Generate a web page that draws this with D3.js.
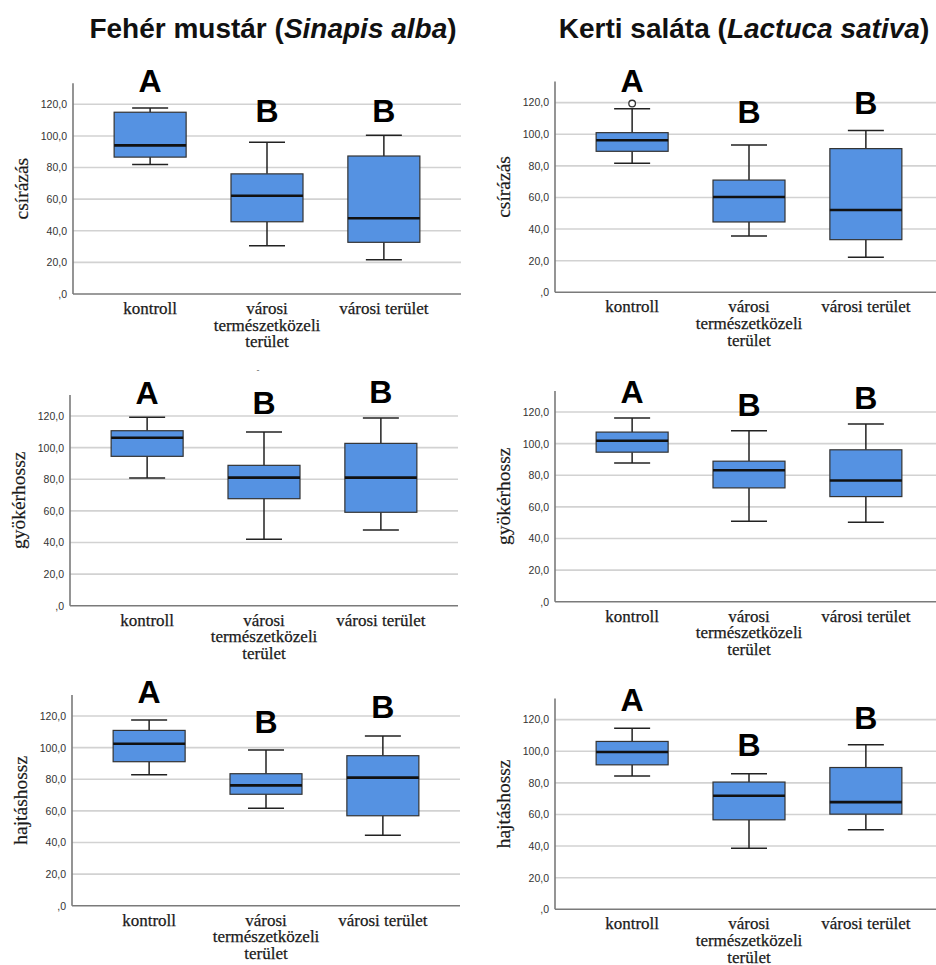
<!DOCTYPE html>
<html>
<head>
<meta charset="utf-8">
<script src="https://cdn.jsdelivr.net/npm/d3@7"></script>
<style>
  body { margin: 0; background: #fff; }
  svg { display: block; }
</style>
</head>
<body>
<svg id="graph" width="936" height="965"></svg>
<script>
(function() {

// categories and labels
const categories = ['kontroll', 'városi természetközeli terület', 'városi terület'];
const categoryLines = [['kontroll'], ['városi', 'természetközeli', 'terület'], ['városi terület']];
const speciesNames = ['Fehér mustár', 'Kerti saláta'];
const latinNames = ['Sinapis alba', 'Lactuca sativa'];
const measures = ['csírázás', 'gyökérhossz', 'hajtáshossz'];
const yTicks = [0, 20, 40, 60, 80, 100, 120];
const groupLetters = ['A', 'B', 'B'];

// box stats per category: [whisker low, Q1, median, Q3, whisker high]
const sinapisCsirazas = [[82, 86.6, 94, 115, 117.6], [30.6, 45.7, 62.2, 76, 96], [21.7, 32.7, 47.9, 87.3, 100.4]];
const lactucaCsirazas = [[81.6, 89.2, 96.2, 101, 116.2], [35.6, 44.5, 60.3, 71, 93.2], [22.2, 33.3, 52.1, 90.9, 102.3]];
const sinapisGyoker = [[80.8, 94.5, 106.3, 110.7, 119.2], [42, 67.7, 81, 88.8, 109.9], [47.9, 59.1, 81, 102.7, 118.7]];
const lactucaGyoker = [[87.7, 94.6, 101.8, 107.3, 116.2], [50.9, 72, 83.2, 88.9, 108.1], [50.3, 66.5, 76.7, 96.1, 112.4]];
const sinapisHajtas = [[82.9, 91.1, 102.5, 110.9, 117.5], [61.6, 70.5, 76.1, 83.5, 98.5], [44.5, 56.9, 81, 94.9, 107.3]];
const lactucaHajtas = [[84.3, 91.4, 99.5, 106.2, 114.5], [38.7, 56.6, 71.8, 80.5, 85.7], [50.4, 60.2, 67.8, 89.7, 104.1]];

// outliers: [category index, value]
const lactucaCsirazasOutliers = [[0, 119.4]];

// letter heights (data units) per panel
const sinapisCsirazasLetters = [127.8, 108.8, 108.8];
const lactucaCsirazasLetters = [127, 107.3, 112.7];
const sinapisGyokerLetters = [127.6, 121.3, 128];
const lactucaGyokerLetters = [125.7, 117.2, 122];
const sinapisHajtasLetters = [128, 109, 118.5];
const lactucaHajtasLetters = [125.7, 97.3, 114.3];

const svg = d3.select('#graph');

const blue = '#5592e2';
const plotW = 388;
const plotH = 210.7;
const yMax = 133.3;
const boxW = 72;

// panel placement: axis x, zero line y
const panels = [
  {ax: 73,  zy: 294,   measure: 0, stats: sinapisCsirazas, letters: sinapisCsirazasLetters, outliers: []},
  {ax: 555, zy: 292.3, measure: 0, stats: lactucaCsirazas, letters: lactucaCsirazasLetters, outliers: lactucaCsirazasOutliers},
  {ax: 70,  zy: 605.7, measure: 1, stats: sinapisGyoker, letters: sinapisGyokerLetters, outliers: []},
  {ax: 555, zy: 601.7, measure: 1, stats: lactucaGyoker, letters: lactucaGyokerLetters, outliers: []},
  {ax: 72,  zy: 905.7, measure: 2, stats: sinapisHajtas, letters: sinapisHajtasLetters, outliers: []},
  {ax: 555, zy: 909.3, measure: 2, stats: lactucaHajtas, letters: lactucaHajtasLetters, outliers: []}
];

// titles
const titleX = [273, 744];
speciesNames.forEach((name, i) => {
  const t = svg.append('text')
    .attr('x', titleX[i])
    .attr('y', 38)
    .attr('text-anchor', 'middle')
    .style('font-family', 'Liberation Sans, Arial, sans-serif')
    .style('font-size', '28px')
    .style('font-weight', 'bold')
    .style('fill', '#111');
  t.append('tspan').text(`${name} (`);
  t.append('tspan').style('font-style', 'italic').text(latinNames[i]);
  t.append('tspan').text(')');
});

// small stray mark above the middle-left chart
svg.append('text')
  .attr('x', 258)
  .attr('y', 373)
  .attr('text-anchor', 'middle')
  .style('font-family', 'Liberation Sans, Arial, sans-serif')
  .style('font-size', '9px')
  .style('fill', '#666')
  .text('-');

panels.forEach(p => {
  const g = svg.append('g');

  const y = d3.scaleLinear()
    .domain([0, yMax])
    .range([p.zy, p.zy - plotH]);

  const x = d3.scalePoint()
    .domain(categories)
    .range([p.ax, p.ax + plotW])
    .padding(0.66);

  // gridlines
  g.selectAll('.grid')
    .data(yTicks.filter(d => d > 0))
    .enter().append('line')
      .attr('x1', p.ax)
      .attr('x2', p.ax + plotW)
      .attr('y1', d => y(d))
      .attr('y2', d => y(d))
      .style('stroke', '#d2d2d2')
      .style('stroke-width', 1.6);

  // y axis
  const yAxis = d3.axisLeft(y)
    .tickValues(yTicks)
    .tickSize(0)
    .tickPadding(6)
    .tickFormat(d => d === 0 ? ',0' : d3.format('.1f')(d).replace('.', ','));

  const ya = g.append('g')
    .attr('transform', `translate(${p.ax},0)`)
    .call(yAxis);
  ya.select('.domain').remove();
  ya.selectAll('text')
    .style('font-family', 'Liberation Sans, Arial, sans-serif')
    .style('font-size', '10.5px')
    .style('fill', '#333');

  // axis lines
  g.append('line')
    .attr('x1', p.ax).attr('x2', p.ax)
    .attr('y1', y(0)).attr('y2', y(yMax))
    .style('stroke', '#7a7a7a')
    .style('stroke-width', 1.6);
  g.append('line')
    .attr('x1', p.ax).attr('x2', p.ax + plotW)
    .attr('y1', y(0)).attr('y2', y(0))
    .style('stroke', '#7a7a7a')
    .style('stroke-width', 1.6);

  // y label
  g.append('text')
    .attr('transform', `translate(${p.ax - 52},${y(yMax / 2)}) rotate(-90)`)
    .attr('text-anchor', 'middle')
    .attr('dy', '0.35em')
    .style('font-family', 'Liberation Serif, Times New Roman, serif')
    .style('font-size', '19.5px')
    .style('fill', '#1a1a1a')
    .style('stroke', '#1a1a1a')
    .style('stroke-width', 0.2)
    .text(measures[p.measure]);

  // category labels
  const cat = g.selectAll('.cat')
    .data(categories)
    .enter().append('text')
      .attr('text-anchor', 'middle')
      .style('font-family', 'Liberation Serif, Times New Roman, serif')
      .style('font-size', '17px')
      .style('fill', '#1a1a1a')
      .style('stroke', '#1a1a1a')
      .style('stroke-width', 0.25);
  cat.selectAll('tspan')
    .data((d, i) => categoryLines[i])
    .enter().append('tspan')
      .attr('x', function() { return x(d3.select(this.parentNode).datum()); })
      .attr('y', (d, i) => y(0) + 20 + i * 16.7)
      .text(d => d);

  // boxes
  const box = g.selectAll('.box')
    .data(p.stats)
    .enter().append('g')
      .attr('transform', (d, i) => `translate(${x(categories[i])},0)`);

  box.append('line')
    .attr('y1', d => y(d[0])).attr('y2', d => y(d[1]))
    .style('stroke', '#222').style('stroke-width', 1.5);
  box.append('line')
    .attr('y1', d => y(d[3])).attr('y2', d => y(d[4]))
    .style('stroke', '#222').style('stroke-width', 1.5);
  box.append('line')
    .attr('x1', -boxW / 4).attr('x2', boxW / 4)
    .attr('y1', d => y(d[0])).attr('y2', d => y(d[0]))
    .style('stroke', '#222').style('stroke-width', 1.5);
  box.append('line')
    .attr('x1', -boxW / 4).attr('x2', boxW / 4)
    .attr('y1', d => y(d[4])).attr('y2', d => y(d[4]))
    .style('stroke', '#222').style('stroke-width', 1.5);
  box.append('rect')
    .attr('x', -boxW / 2)
    .attr('width', boxW)
    .attr('y', d => y(d[3]))
    .attr('height', d => y(d[1]) - y(d[3]))
    .style('fill', blue)
    .style('stroke', '#333')
    .style('stroke-width', 1.2);
  box.append('line')
    .attr('x1', -boxW / 2).attr('x2', boxW / 2)
    .attr('y1', d => y(d[2])).attr('y2', d => y(d[2]))
    .style('stroke', '#111').style('stroke-width', 2.6);

  // outliers
  g.selectAll('.out')
    .data(p.outliers)
    .enter().append('circle')
      .attr('cx', d => x(categories[d[0]]))
      .attr('cy', d => y(d[1]))
      .attr('r', 3.3)
      .style('fill', '#fff')
      .style('stroke', '#333')
      .style('stroke-width', 1.3);

  // significance letters
  g.selectAll('.letter')
    .data(p.letters)
    .enter().append('text')
      .attr('x', (d, i) => x(categories[i]))
      .attr('y', d => y(d))
      .attr('text-anchor', 'middle')
      .style('font-family', 'Liberation Sans, Arial, sans-serif')
      .style('font-size', '32px')
      .style('font-weight', 'bold')
      .style('fill', '#000')
      .text((d, i) => groupLetters[i]);
});

})();
</script>
</body>
</html>
